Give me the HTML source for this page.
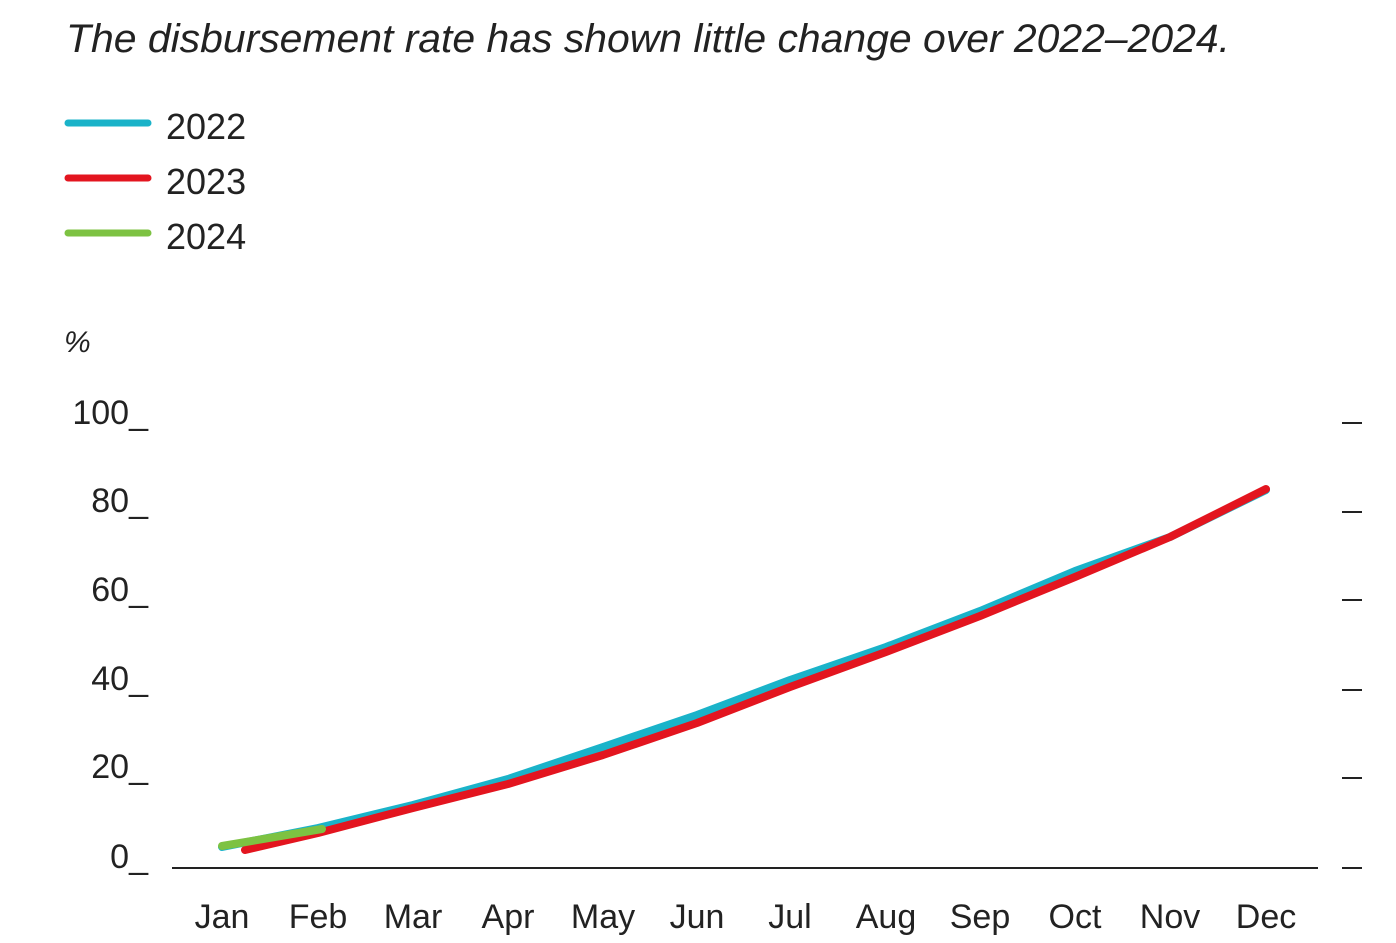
<!DOCTYPE html>
<html><head><meta charset="utf-8"><style>
body{margin:0;background:#fff;}
svg{display:block;font-family:"Liberation Sans",sans-serif;}
</style></head><body>
<svg width="1396" height="943" viewBox="0 0 1396 943" xmlns="http://www.w3.org/2000/svg">
<text x="66" y="52" font-size="40" font-style="italic" fill="#222" textLength="1164" lengthAdjust="spacingAndGlyphs">The disbursement rate has shown little change over 2022–2024.</text>
<g stroke-width="7" stroke-linecap="round">
<line x1="68" y1="123" x2="148" y2="123" stroke="#1ab3c9"/>
<line x1="68" y1="178" x2="148" y2="178" stroke="#e3151f"/>
<line x1="68" y1="233" x2="148" y2="233" stroke="#7dc242"/>
</g>
<g font-size="36" fill="#222">
<text x="166" y="139">2022</text>
<text x="166" y="194">2023</text>
<text x="166" y="249">2024</text>
</g>
<text x="64" y="352" font-size="30" fill="#222" font-style="italic">%</text>
<g font-size="34" fill="#222" text-anchor="end">
<text x="148" y="424">100_</text>
<text x="148" y="512">80_</text>
<text x="148" y="601">60_</text>
<text x="148" y="690">40_</text>
<text x="148" y="778">20_</text>
<text x="148" y="868">0_</text>
</g>
<g stroke="#222" stroke-width="2">
<line x1="1342" y1="423" x2="1362" y2="423"/>
<line x1="1342" y1="512" x2="1362" y2="512"/>
<line x1="1342" y1="600" x2="1362" y2="600"/>
<line x1="1342" y1="690" x2="1362" y2="690"/>
<line x1="1342" y1="778" x2="1362" y2="778"/>
<line x1="1342" y1="868" x2="1362" y2="868"/>
<line x1="172" y1="868" x2="1318" y2="868"/>
</g>
<g font-size="34" fill="#222" text-anchor="middle">
<text x="222" y="928">Jan</text><text x="318" y="928">Feb</text><text x="413" y="928">Mar</text>
<text x="508" y="928">Apr</text><text x="603" y="928">May</text><text x="697" y="928">Jun</text>
<text x="790" y="928">Jul</text><text x="886" y="928">Aug</text><text x="980" y="928">Sep</text>
<text x="1075" y="928">Oct</text><text x="1170" y="928">Nov</text><text x="1266" y="928">Dec</text>
</g>
<g fill="none" stroke-width="8" stroke-linejoin="round" stroke-linecap="round">
<polyline stroke="#1ab3c9" points="222,847 318,828 413,805 508,779 603,747 697,715 790,680 886,647 980,611 1075,571 1170,537 1266,490"/>
<polyline stroke="#e3151f" points="245,850 318,833 413,808 508,784 603,755 697,723 790,687 886,652 980,616 1075,577 1170,537 1266,489"/>
<polyline stroke="#7dc242" points="222,846 322,829"/>
</g>
</svg>
</body></html>
